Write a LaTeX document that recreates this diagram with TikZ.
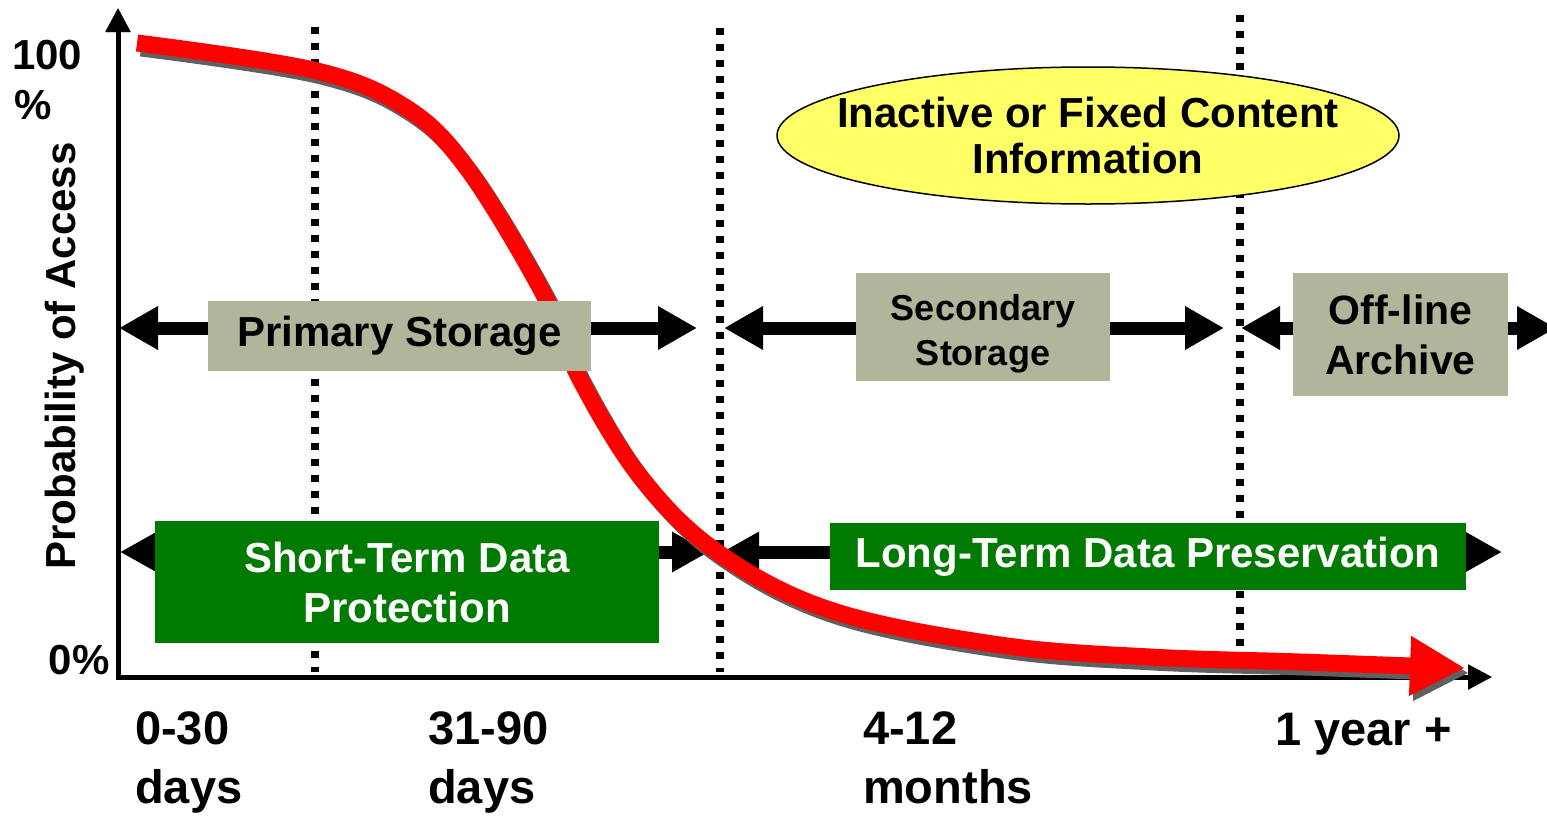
\documentclass[tikz,border=0pt]{standalone}
\usepackage{fontspec}
\setmainfont{Liberation Sans}
\usetikzlibrary{arrows.meta,shapes.geometric}
\definecolor{boxgray}{RGB}{178,181,154}
\definecolor{boxgreen}{RGB}{0,122,0}
\definecolor{ellyellow}{RGB}{255,255,102}
\definecolor{shadowgray}{RGB}{96,96,96}
\pgfdeclarelayer{bg}
\pgfdeclarelayer{mid}
\pgfsetlayers{bg,mid,main}
\begin{document}
\begin{tikzpicture}[x=1pt,y=-1pt,
  lbl/.style={font=\bfseries\fontsize{42}{48}\selectfont, align=center, inner sep=0pt},
  ticklbl/.style={font=\bfseries\fontsize{47}{59}\selectfont, align=left, inner sep=0pt},
  graybox/.style={fill=boxgray, inner sep=0pt, align=center},
  greenbox/.style={fill=boxgreen, text=white, inner sep=0pt, align=center},
  axisline/.style={line width=5pt, line join=miter},
  dotline/.style={line width=7.5pt, dash pattern=on 7pt off 9pt},
  fatarrow/.style={line width=13pt, -{Triangle[length=39pt,width=41pt]}},
  lowarrow/.style={line width=13pt, -{Triangle[length=37pt,width=38pt]}},
  curvepath/.style={line width=17pt, line cap=butt, -{Triangle[length=55pt,width=56pt]}}
]
\useasboundingbox (0,0) rectangle (1547,822);

% boxes
\node[graybox, minimum width=383pt, minimum height=70pt, font=\bfseries\fontsize{42}{46}\selectfont] (prim) at (399.5,336) {Primary Storage};
\node[graybox, minimum width=254pt, minimum height=108pt] (sec) at (983,327) {};
\node[lbl, font=\bfseries\fontsize{36}{45}\selectfont] (sectext) at (983,333.5) {Secondary\\Storage};
\node[graybox, minimum width=215pt, minimum height=123pt, font=\bfseries\fontsize{41}{50}\selectfont] (off) at (1400.5,334.5) {Off-line\\Archive};
\node[greenbox, minimum width=504pt, minimum height=122pt, font=\bfseries\fontsize{42}{50}\selectfont] (short) at (407,582) {Short-Term Data\\Protection};
\node[greenbox, minimum width=636pt, minimum height=67pt, font=\bfseries\fontsize{42}{48}\selectfont] (long) at (1148,556.5) {Long-Term Data Preservation};

\begin{pgfonlayer}{bg}
% axes
\coordinate (ytop) at (118,8);
\coordinate (orig) at (118,677);
\coordinate (xend) at (1492,677);
\draw[axisline, shadowgray, {Triangle[length=24pt,width=24pt]}-{Triangle[length=24pt,width=24pt]}, shift={(2.5,2.5)}] (ytop) -- (orig) -- (xend);
\draw[axisline, {Triangle[length=24pt,width=24pt]}-{Triangle[length=24pt,width=24pt]}] (ytop) -- (orig) -- (xend);

% dotted separators
\coordinate (d1t) at (315,27);  \coordinate (d1b) at (315,672);
\coordinate (d2t) at (720,28);  \coordinate (d2b) at (720,672);
\coordinate (d3t) at (1240,15); \coordinate (d3b) at (1240,648);
\draw[dotline] (d1t) -- (d1b);
\draw[dotline] (d2t) -- (d2b);
\draw[dotline] (d3t) -- (d3b);

% storage arrows
\coordinate (pL) at (119,328);
\coordinate (pR) at (697,328);
\coordinate (sL) at (724,328);
\coordinate (sR) at (1224,328);
\coordinate (oL) at (1241,328);
\coordinate (oR) at (1556,328);
\draw[fatarrow] (pL -| prim.west) -- (pL);
\draw[fatarrow] (pR -| prim.east) -- (pR);
\draw[fatarrow] (sL -| sec.west) -- (sL);
\draw[fatarrow] (sR -| sec.east) -- (sR);
\draw[fatarrow] (oL -| off.west) -- (oL);
\draw[fatarrow] (oR -| off.east) -- (oR);

% protection arrows
\coordinate (tL) at (120,552);
\coordinate (tR) at (709,552);
\coordinate (lL) at (722,552);
\coordinate (lR) at (1502,552);
\draw[lowarrow] (tL -| short.west) -- (tL);
\draw[lowarrow] (tR -| short.east) -- (tR);
\draw[lowarrow] (lL -| long.west) -- (lL);
\draw[lowarrow] (lR -| long.east) -- (lR);
\end{pgfonlayer}

% access curve
\begin{pgfonlayer}{mid}
\def\curvepts{(137,43) (313,70) (405,107) (467,168) (543,293) (580,379) (642,479) (720,554) (833,611) (1000,645) (1150,657) (1300,662) (1465,668)}
\draw[curvepath, shadowgray, shift={(4,5)}] plot[smooth, tension=0.6] coordinates {\curvepts};
\draw[curvepath, red] plot[smooth, tension=0.6] coordinates {\curvepts};
\end{pgfonlayer}

% ellipse
\node[ellipse, draw, line width=1.5pt, fill=ellyellow, minimum width=622pt, minimum height=137pt, inner sep=0pt] (inact) at (1088,135.5) {};
\node[lbl, font=\bfseries\fontsize{42}{46}\selectfont] (inacttext) at (inact.center) {Inactive or Fixed Content\\Information};

% axis labels
\node[lbl, anchor=west] (hundred) at (12,55) {100};
\node[lbl, anchor=west] (pct) at (14,105) {\%};
\node[lbl] (zero) at (79,660) {0\%};
\node[lbl, rotate=90] (ylabel) at (65,356) {Probability of Access};

% time labels
\node[ticklbl, anchor=north west] (t1) at (135,711) {0-30\\days};
\node[ticklbl, anchor=north west] (t2) at (428,711) {31-90\\days};
\node[ticklbl, anchor=north west] (t3) at (863,711) {4-12\\months};
\node[ticklbl, anchor=base west] (t4) at (1275,745) {1 year +};
\end{tikzpicture}
\end{document}
